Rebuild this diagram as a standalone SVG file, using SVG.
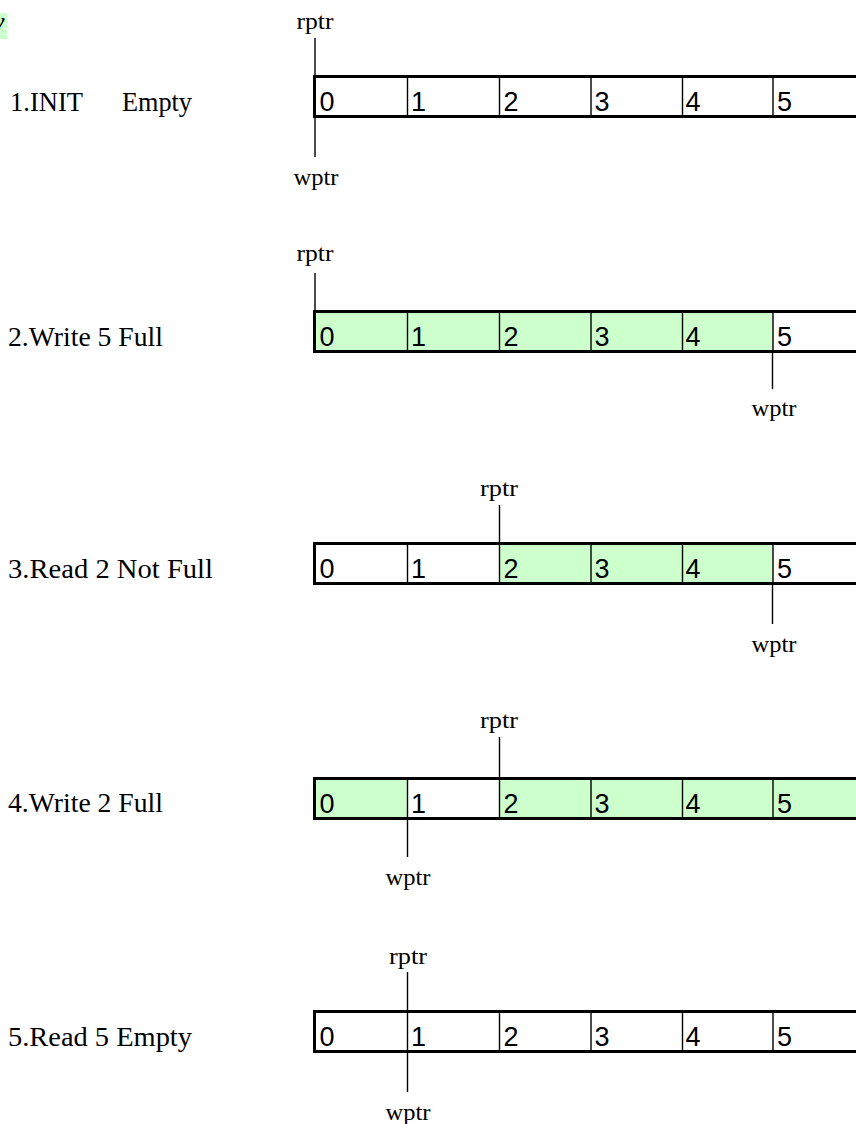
<svg xmlns="http://www.w3.org/2000/svg" width="856" height="1124" viewBox="0 0 856 1124">
  <defs>
    <style>
      .lbl { font-family: "Liberation Serif", "Times New Roman", serif; font-size: 28px; fill: #000; }
      .ptr { font-family: "Liberation Serif", "Times New Roman", serif; font-size: 24px; fill: #000; text-anchor: middle; }
      .num { font-family: "Liberation Sans", Arial, sans-serif; font-size: 27px; fill: #000; }
      .frame { fill: none; stroke: #000; stroke-width: 3; }
      .div { stroke: #000; stroke-width: 1.4; }
      .full { fill: #ccffcc; }
      .lead { stroke: #000; stroke-width: 1.4; fill: none; }
    </style>
  </defs>
  <rect width="856" height="1124" fill="#fff"/>

  <!-- clipped heading fragment at top-left -->
  <g id="heading">
    <rect x="0" y="13" width="7" height="26" class="full"/>
    <text x="-8" y="31" class="lbl" font-style="italic">y</text>
  </g>

  <!-- state 1: INIT -->
  <g id="state1">
    <text x="10" y="111" class="lbl" textLength="73" lengthAdjust="spacingAndGlyphs">1.INIT</text>
    <text x="122" y="111" class="lbl" textLength="70" lengthAdjust="spacingAndGlyphs">Empty</text>
    <rect x="314.5" y="76.5" width="600" height="40" class="frame"/>
    <path class="div" d="M407.5 76.5V116.5M499.5 76.5V116.5M591 76.5V116.5M682.5 76.5V116.5M773 76.5V116.5"/>
    <text class="num" y="111"><tspan x="319.5">0</tspan><tspan x="411">1</tspan><tspan x="503.5">2</tspan><tspan x="594.5">3</tspan><tspan x="685.5">4</tspan><tspan x="777">5</tspan></text>
    <text x="315" y="29" class="ptr" textLength="37" lengthAdjust="spacingAndGlyphs">rptr</text>
    <text x="316" y="185" class="ptr" textLength="45" lengthAdjust="spacingAndGlyphs">wptr</text>
  </g>

  <!-- state 2: write 5 -->
  <g id="state2">
    <text x="8" y="346" class="lbl" textLength="155" lengthAdjust="spacingAndGlyphs">2.Write 5 Full</text>
    <rect x="314.5" y="311.5" width="458.5" height="40" class="full"/>
    <rect x="314.5" y="311.5" width="600" height="40" class="frame"/>
    <path class="div" d="M407.5 311.5V351.5M499.5 311.5V351.5M591 311.5V351.5M682.5 311.5V351.5M773 311.5V351.5"/>
    <text class="num" y="346"><tspan x="319.5">0</tspan><tspan x="411">1</tspan><tspan x="503.5">2</tspan><tspan x="594.5">3</tspan><tspan x="685.5">4</tspan><tspan x="777">5</tspan></text>
    <text x="315" y="261" class="ptr" textLength="37" lengthAdjust="spacingAndGlyphs">rptr</text>
    <text x="774" y="416" class="ptr" textLength="45" lengthAdjust="spacingAndGlyphs">wptr</text>
  </g>

  <!-- state 3: read 2 -->
  <g id="state3">
    <text x="8" y="578" class="lbl" textLength="205" lengthAdjust="spacingAndGlyphs">3.Read 2  Not Full</text>
    <rect x="499.5" y="543.5" width="273.5" height="40" class="full"/>
    <rect x="314.5" y="543.5" width="600" height="40" class="frame"/>
    <path class="div" d="M407.5 543.5V583.5M499.5 543.5V583.5M591 543.5V583.5M682.5 543.5V583.5M773 543.5V583.5"/>
    <text class="num" y="578"><tspan x="319.5">0</tspan><tspan x="411">1</tspan><tspan x="503.5">2</tspan><tspan x="594.5">3</tspan><tspan x="685.5">4</tspan><tspan x="777">5</tspan></text>
    <text x="499" y="496" class="ptr" textLength="38" lengthAdjust="spacingAndGlyphs">rptr</text>
    <text x="774" y="652" class="ptr" textLength="45" lengthAdjust="spacingAndGlyphs">wptr</text>
  </g>

  <!-- state 4: write 2 -->
  <g id="state4">
    <text x="8" y="812" class="lbl" textLength="155" lengthAdjust="spacingAndGlyphs">4.Write 2 Full</text>
    <rect x="314.5" y="778.5" width="93" height="40" class="full"/>
    <rect x="499.5" y="778.5" width="360" height="40" class="full"/>
    <rect x="314.5" y="778.5" width="600" height="40" class="frame"/>
    <path class="div" d="M407.5 778.5V818.5M499.5 778.5V818.5M591 778.5V818.5M682.5 778.5V818.5M773 778.5V818.5"/>
    <text class="num" y="813"><tspan x="319.5">0</tspan><tspan x="411">1</tspan><tspan x="503.5">2</tspan><tspan x="594.5">3</tspan><tspan x="685.5">4</tspan><tspan x="777">5</tspan></text>
    <text x="499" y="728" class="ptr" textLength="38" lengthAdjust="spacingAndGlyphs">rptr</text>
    <text x="408" y="885" class="ptr" textLength="45" lengthAdjust="spacingAndGlyphs">wptr</text>
  </g>

  <!-- state 5: read 5 -->
  <g id="state5">
    <text x="8" y="1046" class="lbl" textLength="184" lengthAdjust="spacingAndGlyphs">5.Read 5  Empty</text>
    <rect x="314.5" y="1011.5" width="600" height="40" class="frame"/>
    <path class="div" d="M407.5 1011.5V1051.5M499.5 1011.5V1051.5M591 1011.5V1051.5M682.5 1011.5V1051.5M773 1011.5V1051.5"/>
    <text class="num" y="1046"><tspan x="319.5">0</tspan><tspan x="411">1</tspan><tspan x="503.5">2</tspan><tspan x="594.5">3</tspan><tspan x="685.5">4</tspan><tspan x="777">5</tspan></text>
    <text x="408" y="964" class="ptr" textLength="38" lengthAdjust="spacingAndGlyphs">rptr</text>
    <text x="408" y="1120" class="ptr" textLength="45" lengthAdjust="spacingAndGlyphs">wptr</text>
  </g>

  <!-- pointer leads from labels to buffer slots -->
  <g id="connectors" class="lead">
    <path d="M315 38V76M315 117V157"/>
    <path d="M315 273V311M772.5 352V389"/>
    <path d="M499.5 505V543M772.5 584V624"/>
    <path d="M499.5 737V778M407.5 819V857"/>
    <path d="M407.5 972V1011M407.5 1052V1092"/>
  </g>
</svg>
